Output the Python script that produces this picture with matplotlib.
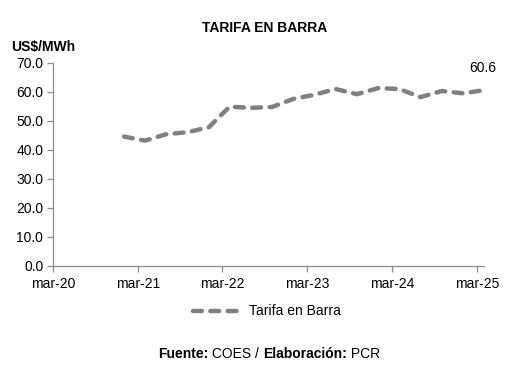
import matplotlib
matplotlib.use("Agg")
import matplotlib.pyplot as plt
import matplotlib.dates as mdates
import pandas as pd

plt.rcParams['font.family'] = ['Liberation Sans', 'DejaVu Sans']

# Quarterly tariff values (US$/MWh)
fechas = ['2021-01-01', '2021-04-01', '2021-07-01', '2021-10-01',
          '2022-01-01', '2022-04-01', '2022-07-01', '2022-10-01',
          '2023-01-01', '2023-04-01', '2023-07-01', '2023-10-01',
          '2024-01-01', '2024-04-01', '2024-07-01', '2024-10-01',
          '2025-01-01', '2025-04-01']
tarifa = [44.6, 43.2, 45.4, 46.1,
          47.8, 54.9, 54.5, 54.8,
          57.6, 59.0, 61.0, 59.2,
          61.3, 61.0, 58.2, 60.3,
          59.5, 60.6]

tick_fechas = ['2020-03-01', '2021-03-01', '2022-03-01',
               '2023-03-01', '2024-03-01', '2025-03-01']
tick_labels = ['mar-20', 'mar-21', 'mar-22', 'mar-23', 'mar-24', 'mar-25']
y_ticks = [0, 10, 20, 30, 40, 50, 60, 70]

x = pd.to_datetime(fechas)
xt = pd.to_datetime(tick_fechas)

fig = plt.figure(figsize=(5.26, 3.72), dpi=100)
ax = fig.add_axes([0.1008, 0.285, 0.8194, 0.546])

gris = '#808080'
line, = ax.plot(x, tarifa, color=gris, linewidth=3.2, dashes=(2.0, 1.9),
                dash_capstyle='round', solid_capstyle='round',
                label='Tarifa en Barra')

ax.set_xlim(pd.Timestamp('2020-03-01'), pd.Timestamp('2025-04-01'))
ax.set_ylim(0, 70)
ax.set_xticks(xt)
ax.set_xticklabels(tick_labels)
ax.set_yticks(y_ticks)
ax.set_yticklabels(['%.1f' % v for v in y_ticks])

for s in ['top', 'right']:
    ax.spines[s].set_visible(False)
for s in ['left', 'bottom']:
    ax.spines[s].set_color('#8c8c8c')
    ax.spines[s].set_linewidth(0.9)
ax.tick_params(axis='both', colors='#8c8c8c', length=4, width=0.9,
               labelsize=10, labelcolor='black')
ax.tick_params(axis='x', pad=4)
ax.tick_params(axis='y', pad=3)

# data label last point
ax.annotate('%.1f' % tarifa[-1], (x[-1], tarifa[-1]), xytext=(-1, 11),
            textcoords='offset points', ha='center', va='bottom', fontsize=10)

fig.text(0.503, 0.925, 'TARIFA EN BARRA', ha='center', va='center',
         fontsize=10, fontweight='bold')
fig.text(0.021, 0.873, 'US$/MWh', ha='left', va='center',
         fontsize=10, fontweight='bold')

fig.legend(handles=[line], loc='center', bbox_to_anchor=(0.508, 0.163),
           frameon=False, fontsize=10, handlelength=3.4, handletextpad=0.6)

# footer: mix bold and regular
t1 = fig.text(0.300, 0.038, 'Fuente:', ha='left', va='baseline',
              fontsize=10, fontweight='bold')
t2 = ax.annotate(' COES / ', xy=(1, 0), xycoords=t1, ha='left', va='bottom',
                 fontsize=10, annotation_clip=False)
t3 = ax.annotate('Elaboración:', xy=(1, 0), xycoords=t2, ha='left', va='bottom',
                 fontsize=10, fontweight='bold', annotation_clip=False)
t4 = ax.annotate(' PCR', xy=(1, 0), xycoords=t3, ha='left', va='bottom',
                 fontsize=10, annotation_clip=False)

fig.savefig('out.png', dpi=100)
